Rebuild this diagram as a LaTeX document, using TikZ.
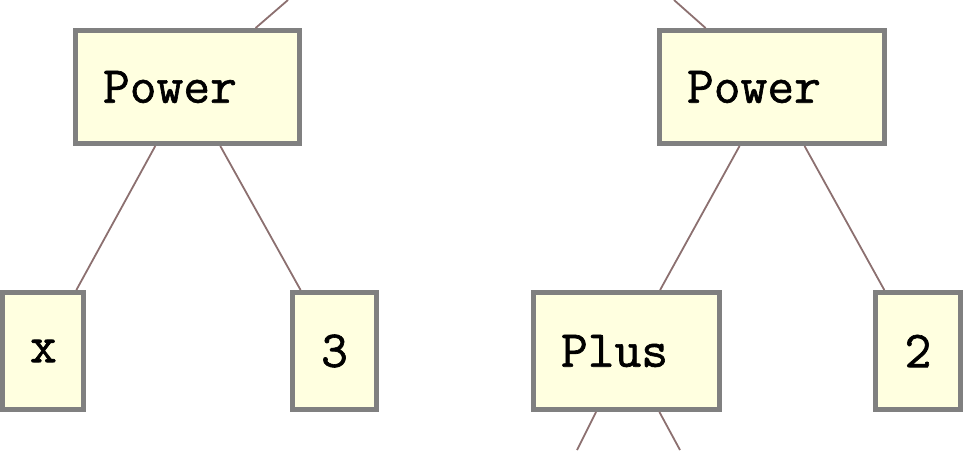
\documentclass[tikz,border=0pt]{standalone}
\usepackage{fontspec}
\setmonofont{Latin Modern Mono}[FakeBold=1.2]
\definecolor{boxfill}{RGB}{255,255,224}
\definecolor{boxline}{RGB}{128,128,128}
\definecolor{edgeline}{RGB}{140,112,112}
\begin{document}
\begin{tikzpicture}[x=1pt,y=-1pt, tbox/.style={draw=boxline,line width=5pt,fill=boxfill,inner xsep=27.5pt,inner ysep=0pt,font=\ttfamily\fontsize{52}{52}\selectfont}, edge/.style={draw=edgeline,line width=1.8pt}]
\useasboundingbox (0,0) rectangle (980,450);
\node[tbox,minimum height=113pt,text width=169pt,align=left] (powL) at (187.5,87) {Power};
\node[tbox,minimum height=113pt,text width=170pt,align=left] (powR) at (772,87) {Power};
\node[tbox,minimum height=117pt,text width=26pt,align=center] (nx) at (43,351) {x};
\node[tbox,minimum height=117pt,text width=29pt,align=center] (n3) at (334.5,351) {3};
\node[tbox,minimum height=117pt,text width=131pt,align=left] (plus) at (626.5,351) {Plus};
\node[tbox,minimum height=117pt,text width=30pt,align=center] (n2) at (918,351) {2};
\coordinate (upL) at (288,0);
\coordinate (upR) at (674,0);
\coordinate (dnA) at (577,450);
\coordinate (dnB) at (680,450);
\draw[edge] (powL)--(upL);\draw[edge] (powR)--(upR);
\draw[edge] (powL)--(nx);\draw[edge] (powL)--(n3);
\draw[edge] (powR)--(plus);\draw[edge] (powR)--(n2);
\draw[edge] (plus)--(dnA);\draw[edge] (plus)--(dnB);
\end{tikzpicture}
\end{document}
